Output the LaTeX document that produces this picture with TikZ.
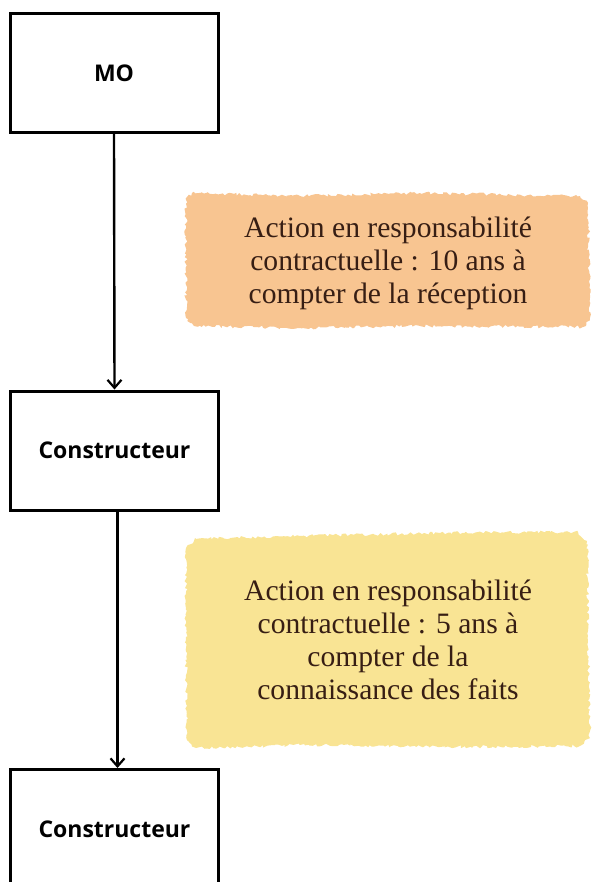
\documentclass[tikz,border=0pt]{standalone}
\usepackage{fontspec}
\setmainfont{Liberation Serif}
\newfontfamily\boxfont{Open Sans}
\usetikzlibrary{arrows.meta,decorations.pathmorphing}
\definecolor{orangeblob}{RGB}{248,197,145}
\definecolor{yellowblob}{RGB}{249,228,148}
\definecolor{txtbrown}{RGB}{55,30,20}
\begin{document}
\begin{tikzpicture}[x=0.5pt,y=-0.5pt,
  flowbox/.style={draw=black,line width=1.5pt,fill=white,minimum width=104pt,minimum height=59.5pt,inner sep=0pt,font=\boxfont\bfseries\fontsize{11.5}{13}\selectfont},
  blobtext/.style={text=txtbrown,align=center,font=\fontsize{14.8}{16.5}\selectfont},
  rough/.style={decorate,decoration={random steps,segment length=1.2pt,amplitude=0.8pt}},
  conn/.style={line width=1.2pt,-{Straight Barb[length=4pt,width=7pt,line width=1.1pt]}}]
\useasboundingbox (0,0) rectangle (592,882);
\begin{scope}
\clip (0,0) rectangle (592,882);
% blobs
\fill[orangeblob,rough] (186,200) -- (192,193) -- (300,196) -- (420,193) -- (580,196) -- (588,203) -- (590,318) -- (583,327) -- (420,326) -- (300,328) -- (194,326) -- (186,318) -- cycle;
\fill[yellowblob,rough] (186,548) -- (196,539) -- (300,536) -- (440,533) -- (578,532) -- (587,541) -- (588,640) -- (590,738) -- (580,746) -- (440,747) -- (300,745) -- (196,748) -- (187,740) -- (186,640) -- cycle;
\node[blobtext] (t1) at (388,263) {Action en responsabilité\\contractuelle : 10 ans à\\compter de la réception};
\node[blobtext] (t2) at (388,640) {Action en responsabilité\\contractuelle : 5 ans à\\compter de la\\connaissance des faits};
% boxes
\node[flowbox] (mo) at (114,73) {MO};
\node[flowbox] (c1) at (114.5,450.5) {Constructeur};
\node[flowbox] (c2) at (114.5,829) {Constructeur};
\draw[conn] (mo.south) -- (c1.north);
\draw[conn] ([xshift=1.5pt]c1.south) -- ([xshift=1.5pt]c2.north);
\end{scope}
\end{tikzpicture}
\end{document}
